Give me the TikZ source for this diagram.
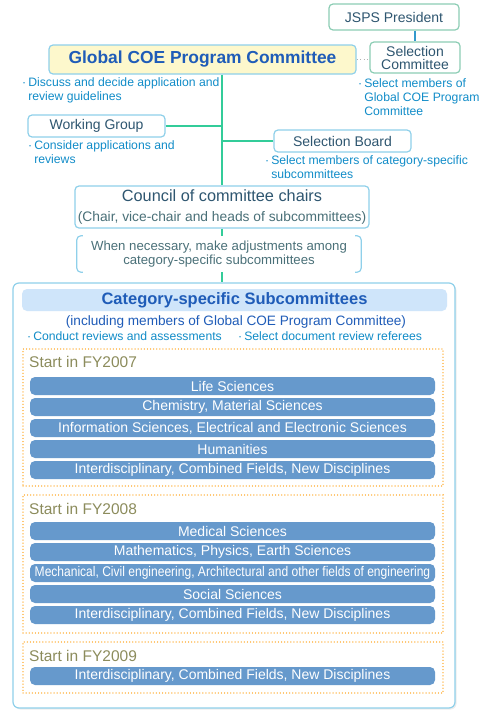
\documentclass[tikz,border=0pt]{standalone}
\usepackage{fontspec}
\setmainfont{Liberation Sans}
\usepackage{graphicx}
\usepackage{tikz}
\usetikzlibrary{shadows}

\definecolor{lineblue}{HTML}{3399CC}
\definecolor{boxblue}{HTML}{8FD0EA}
\definecolor{boxgreen}{HTML}{8CCDB4}
\definecolor{trunk}{HTML}{33CC99}
\definecolor{titleblue}{HTML}{1F5CB8}
\definecolor{notecyan}{HTML}{118CC8}
\definecolor{darkslate}{HTML}{2E5670}
\definecolor{greyteal}{HTML}{4A7078}
\definecolor{olive}{HTML}{8C8C5C}
\definecolor{barblue}{HTML}{6699CC}
\definecolor{headblue}{HTML}{CFE5FA}
\definecolor{paleyellow}{HTML}{FDF8CC}
\definecolor{dotorange}{HTML}{FFC266}

\newcommand\pointtext[1]{\textperiodcentered\,\begin{tabular}[t]{@{}l@{}}#1\end{tabular}}

\begin{document}
\begin{tikzpicture}[x=1pt, y=-1pt,
  box/.style={draw=boxblue, line width=1.2pt, rounded corners=4, fill=white, inner sep=0,
    text=darkslate, font=\fontsize{14}{16}\selectfont},
  topbox/.style={box, draw=boxgreen},
  note/.style={anchor=north west, inner sep=0, text=notecyan, font=\fontsize{12.2}{14}\selectfont},
  bar/.style={fill=barblue, rounded corners=5, minimum width=405, minimum height=18, inner sep=0,
    text=white, font=\fontsize{14}{16}\selectfont},
  fybox/.style={draw=dotorange, line width=1.3pt, dash pattern=on 0.1pt off 3pt, line cap=round,
    minimum width=420, inner sep=0},
  fylabel/.style={anchor=west, inner sep=0, text=olive, font=\fontsize{15.5}{18}\selectfont},
  link/.style={draw=trunk, line width=1.5pt}]
  \useasboundingbox (0,0) rectangle (480,715);

  \node [topbox, minimum width=130, minimum height=26] (jsps) at (394, 17) {JSPS President};
  \node [topbox, minimum width=90, minimum height=31, align=center, font=\fontsize{14}{13}\selectfont]
    (selcom) at (415, 57.5) {Selection\\Committee};
  \node [box, fill=paleyellow, minimum width=307, minimum height=29, text=titleblue,
    font=\bfseries\fontsize{17.4}{20}\selectfont] (gcoe) at (202.5, 59.5) {Global COE Program Committee};
  \node [box, minimum width=137, minimum height=22] (wgroup) at (96.5, 126) {Working Group};
  \node [box, minimum width=137, minimum height=22] (selboard) at (342.5, 141) {Selection Board};
  \node [box, minimum width=294, minimum height=42, align=center, font=\fontsize{16.3}{20}\selectfont]
    (council) at (222, 207) {Council of committee chairs\\{\fontsize{13.8}{15}\selectfont\color{greyteal}(Chair, vice-chair and heads of subcommittees)}};
  \node [minimum width=284, minimum height=36, inner sep=0, align=center, text=greyteal,
    font=\fontsize{13.2}{14.5}\selectfont] (adjust) at (219, 254)
    {When necessary, make adjustments among\\category-specific subcommittees};
  \node [box, minimum width=442, minimum height=425, rounded corners=6,
    drop shadow={shadow xshift=1.5pt, shadow yshift=-1.5pt, opacity=0.15}] (subcom) at (234, 495.5) {};
  \node [fill=headblue, rounded corners=5, minimum width=425, minimum height=22, inner sep=0,
    text=titleblue, font=\bfseries\fontsize{16.5}{18}\selectfont] (subhead) at (234.5, 300)
    {Category-specific Subcommittees};

  \node [note] (discuss) at (22, 76) {\pointtext{Discuss and decide application and\\review guidelines}};
  \node [note] (selnote) at (358, 77) {\pointtext{Select members of\\Global COE Program\\Committee}};
  \node [note] (consider) at (28, 139) {\pointtext{Consider applications and\\reviews}};
  \node [note] (boardnote) at (265, 154) {\pointtext{Select members of category-specific\\subcommittees}};
  \node [inner sep=0, text=titleblue, font=\fontsize{13.6}{15}\selectfont] (incl) at (236, 322)
    {(including members of Global COE Program Committee)};
  \node [note] (conduct) at (27, 330) {\pointtext{Conduct reviews and assessments}};
  \node [note] (referee) at (238, 330) {\pointtext{Select document review referees}};

  \node [fybox, minimum height=137] (box07) at (233, 417.5) {};
  \node [fybox, minimum height=138] (box08) at (233, 564) {};
  \node [fybox, minimum height=51] (box09) at (233, 667.5) {};
  \node [fylabel] (fy07) at (29, 362) {Start in FY2007};
  \node [fylabel] (fy08) at (29, 509) {Start in FY2008};
  \node [fylabel] (fy09) at (29, 656) {Start in FY2009};

  \node [bar] (life) at (232.5, 386) {Life Sciences};
  \node [bar] (chem) at (232.5, 407) {Chemistry, Material Sciences};
  \node [bar] (info) at (232.5, 428) {Information Sciences, Electrical and Electronic Sciences};
  \node [bar] (hum) at (232.5, 449) {Humanities};
  \node [bar] (inter07) at (232.5, 470) {Interdisciplinary, Combined Fields, New Disciplines};
  \node [bar] (med) at (232.5, 531) {Medical Sciences};
  \node [bar] (math) at (232.5, 552) {Mathematics, Physics, Earth Sciences};
  \node [bar] (mech) at (232.5, 573)
    {\scalebox{0.86}[1]{Mechanical, Civil engineering, Architectural and other fields of engineering}};
  \node [bar] (soc) at (232.5, 594) {Social Sciences};
  \node [bar] (inter08) at (232.5, 615) {Interdisciplinary, Combined Fields, New Disciplines};
  \node [bar] (inter09) at (232.5, 676) {Interdisciplinary, Combined Fields, New Disciplines};

  \draw [draw=lineblue, line width=1.5pt] (jsps.south -| selcom.north) -- (selcom.north);
  \draw [draw=gray!60, line width=1.2pt, dash pattern=on 1pt off 2.5pt] (gcoe.east) -- (gcoe.east -| selcom.west);
  \draw [link] (council.north |- gcoe.south) -- (council.north);
  \draw [link] (wgroup.east) -- (wgroup.east -| council.north);
  \draw [link] (selboard.west) -- (selboard.west -| council.north);
  \draw [link] (council.south) -- (council.south |- adjust.north);
  \draw [link] (council.south |- adjust.south) -- (council.south |- subcom.north);
  \draw [draw=boxblue, line width=1.2pt, rounded corners=4]
    ([xshift=6]adjust.north west) -- (adjust.north west) -- (adjust.south west) -- ([xshift=6]adjust.south west);
  \draw [draw=boxblue, line width=1.2pt, rounded corners=4]
    ([xshift=-6]adjust.north east) -- (adjust.north east) -- (adjust.south east) -- ([xshift=-6]adjust.south east);
\end{tikzpicture}
\end{document}
